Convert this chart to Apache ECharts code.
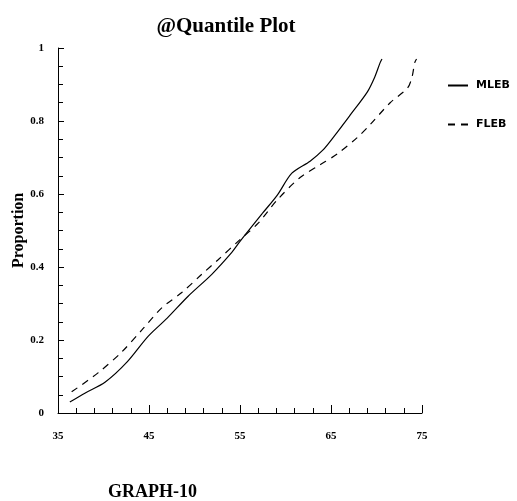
<!DOCTYPE html>
<html>
<head>
<meta charset="utf-8">
<script src="https://cdn.jsdelivr.net/npm/echarts@6/dist/echarts.min.js"></script>
<style>html,body{margin:0;padding:0;background:#fff;}#c{width:517px;height:501px;}</style>
</head>
<body>
<div id="c"></div>
<script>
var mlebX = [36.3, 38, 40.2, 42.6, 44.9, 47, 49.3, 51.9, 54.1, 55, 57.5, 59.1, 60.7, 62.7, 64.1, 65.4, 67.1, 69, 69.8, 70.4, 70.6];
var mlebP = [0.03, 0.055, 0.085, 0.14, 0.21, 0.26, 0.32, 0.38, 0.44, 0.47, 0.548, 0.597, 0.657, 0.69, 0.72, 0.76, 0.816, 0.88, 0.92, 0.96, 0.97];
var flebX = [36.5, 39.4, 42, 44.2, 46.4, 48.6, 50.8, 52.6, 55, 57, 59.1, 61.6, 63.8, 65.7, 67.9, 69.3, 71.5, 73.4, 73.9, 74.2, 74.4];
var flebP = [0.058, 0.11, 0.167, 0.227, 0.288, 0.33, 0.38, 0.42, 0.475, 0.52, 0.584, 0.645, 0.68, 0.71, 0.755, 0.79, 0.85, 0.89, 0.92, 0.96, 0.97];
var seriesNames = ['MLEB', 'FLEB'];
var titleText = '@Quantile Plot';
var yName = 'Proportion';
var footText = 'GRAPH-10';

function pairs(xs, ys) { return xs.map(function (x, i) { return [x, ys[i]]; }); }

var serifB = { fontFamily: 'Liberation Serif', fontWeight: 'bold', color: '#000' };
var chart = echarts.init(document.getElementById('c'));
chart.setOption({
  animation: false,
  backgroundColor: '#fff',
  title: {
    text: titleText, left: 221, top: 11, textAlign: 'center',
    textStyle: { fontFamily: 'Liberation Serif', fontWeight: 'bold', fontSize: 21, color: '#000' }
  },
  legend: {
    orient: 'vertical', left: 447, top: 80, padding: 0, itemWidth: 20, itemHeight: 10, itemGap: 28,
    itemStyle: { opacity: 0 },
    textStyle: { fontFamily: 'DejaVu Sans', fontWeight: 'bold', fontSize: 11, color: '#000', padding: [0, 0, 0, 3] },
    data: seriesNames
  },
  graphic: [
    { type: 'text', x: 108, y: 483, style: { text: footText, font: 'bold 18px "Liberation Serif"', fill: '#000' } },
    { type: 'text', x: 11, y: 268, rotation: Math.PI / 2, style: { text: yName, font: 'bold 16px "Liberation Serif"', fill: '#000' } }
  ],
  grid: { left: 58, right: 95, top: 48, bottom: 88 },
  xAxis: {
    type: 'value', min: 35, max: 75, interval: 10,
    axisLine: { lineStyle: { color: '#000', width: 1 } },
    axisTick: { inside: true, length: 8, lineStyle: { color: '#000' } },
    minorTick: { show: true, splitNumber: 5, length: 5, lineStyle: { color: '#000' } },
    splitLine: { show: false },
    axisLabel: Object.assign({ fontSize: 11, margin: 18 }, serifB)
  },
  yAxis: {
    type: 'value', min: 0, max: 1, interval: 0.2,
    axisLine: { show: true, lineStyle: { color: '#000', width: 1 } },
    axisTick: { show: true, inside: true, length: 6, lineStyle: { color: '#000' } },
    minorTick: { show: true, splitNumber: 4, length: 5, lineStyle: { color: '#000' } },
    splitLine: { show: false },
    axisLabel: Object.assign({ fontSize: 11, margin: 14 }, serifB)
  },
  series: [
    { name: seriesNames[0], type: 'line', smooth: 0.3, symbol: 'none', data: pairs(mlebX, mlebP),
      lineStyle: { color: '#000', width: 1.2, type: 'solid' }, itemStyle: { color: '#000' } },
    { name: seriesNames[1], type: 'line', smooth: 0.3, symbol: 'none', data: pairs(flebX, flebP),
      lineStyle: { color: '#000', width: 1.2, type: [7, 6] }, itemStyle: { color: '#000' } }
  ]
});
</script>
</body>
</html>
